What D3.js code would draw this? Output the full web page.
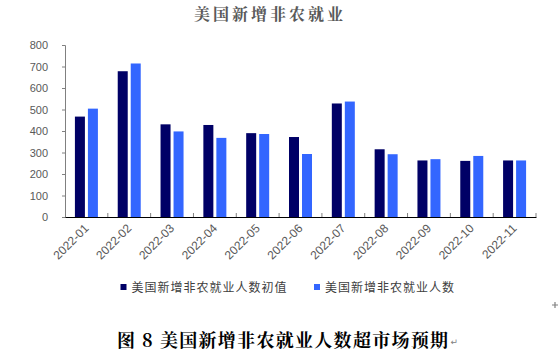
<!DOCTYPE html>
<html><head><meta charset="utf-8">
<script src="https://cdn.jsdelivr.net/npm/d3@7/dist/d3.min.js"></script>
<style>body{margin:0;background:#fff}svg{display:block}</style>
</head><body><svg id="c" width="558" height="362"></svg>
<script>
const categories = ["2022-01","2022-02","2022-03","2022-04","2022-05","2022-06","2022-07","2022-08","2022-09","2022-10","2022-11"];
const initialValues = [467, 678, 431, 428, 390, 372, 528, 315, 263, 261, 263];
const revisedValues = [504, 714, 398, 368, 386, 293, 537, 292, 269, 284, 263];
const seriesNames = ["美国新增非农就业人数初值", "美国新增非农就业人数"];
const yTicks = [0,100,200,300,400,500,600,700,800];
const colors = ["#000066", "#3366FF"];

const svg = d3.select("#c");
const serif = "'Noto Serif CJK SC','Noto Sans CJK SC',serif";
const cjk = "'Noto Sans CJK SC',sans-serif";
const x = d3.scaleBand().domain(categories).range([65, 536]);
const y = d3.scaleLinear().domain([0, 800]).range([217, 45]);

// title
svg.append("text").attr("x", 270).attr("y", 20).attr("text-anchor","middle")
  .attr("font-family", serif).attr("font-weight","bold").attr("font-size", 16)
  .attr("letter-spacing", 3).attr("fill","#595959").text("美国新增非农就业");

// y axis
const yAxis = svg.append("g").attr("transform","translate(65,0)")
  .call(d3.axisLeft(y).tickValues(yTicks).tickSize(3).tickPadding(14).tickFormat(d3.format("d")));
yAxis.select(".domain").attr("stroke","#808080");
yAxis.selectAll(".tick line").attr("stroke","#808080");
yAxis.selectAll("text").attr("font-family","'Liberation Sans',Arial,sans-serif").attr("font-size",11).attr("fill","#595959");

// bars
const bw = 10;
const data = categories.map((c,i)=>({c, v:[initialValues[i], revisedValues[i]]}));
data.forEach(d=>{
  const cx = x(d.c) + x.bandwidth()/2;
  d.v.forEach((v,j)=>{
    svg.append("rect")
      .attr("x", j===0 ? cx - 11.5 : cx + 1.5)
      .attr("y", y(v)).attr("width", bw).attr("height", y(0)-y(v))
      .attr("fill", colors[j]);
  });
});

// x axis
const xAxis = svg.append("g").attr("transform","translate(0,217)")
  .call(d3.axisBottom(x).tickSize(0).tickFormat(""));
xAxis.select(".domain").attr("stroke","#000").attr("stroke-width",1.2);
svg.append("g").selectAll("line").data(categories).enter().append("line")
  .attr("x1", (d,i)=> 65 + (i+1)*x.step()).attr("x2", (d,i)=> 65 + (i+1)*x.step())
  .attr("y1", 213).attr("y2", 217).attr("stroke","#808080");
svg.append("g").selectAll("text").data(categories).enter().append("text")
  .attr("transform", d=>`translate(${x(d)+x.bandwidth()/2+3},229) rotate(-45)`)
  .attr("text-anchor","end").attr("font-family","'Liberation Sans',Arial,sans-serif")
  .attr("font-size",12).attr("fill","#595959").text(d=>d);

// legend
const leg = [{x:120.5, t:seriesNames[0]}, {x:314, t:seriesNames[1]}];
leg.forEach((l,i)=>{
  svg.append("rect").attr("x", l.x).attr("y", 284).attr("width", 6).attr("height", 6).attr("fill", colors[i]);
  svg.append("text").attr("x", l.x+11).attr("y", 292).attr("font-family", cjk)
    .attr("font-size", 12).attr("letter-spacing", 1).attr("fill","#404040").text(l.t);
});

// caption
const cap = svg.append("text").attr("x", 117).attr("y", 347).attr("font-family", serif).attr("font-weight","bold")
  .attr("font-size", 18).attr("letter-spacing", 1.3).attr("fill","#000").text("图 8 美国新增非农就业人数超市场预期");
const cb = cap.node().getBBox();
svg.append("text").attr("x", cb.x + cb.width + 1).attr("y", 345).attr("font-family","'DejaVu Sans',sans-serif")
  .attr("font-size", 9).attr("fill","#808080").text("↵");
svg.append("path").attr("d","M552,305H558M555,302V308").attr("stroke","#808080").attr("stroke-width",1.2);
</script></body></html>
